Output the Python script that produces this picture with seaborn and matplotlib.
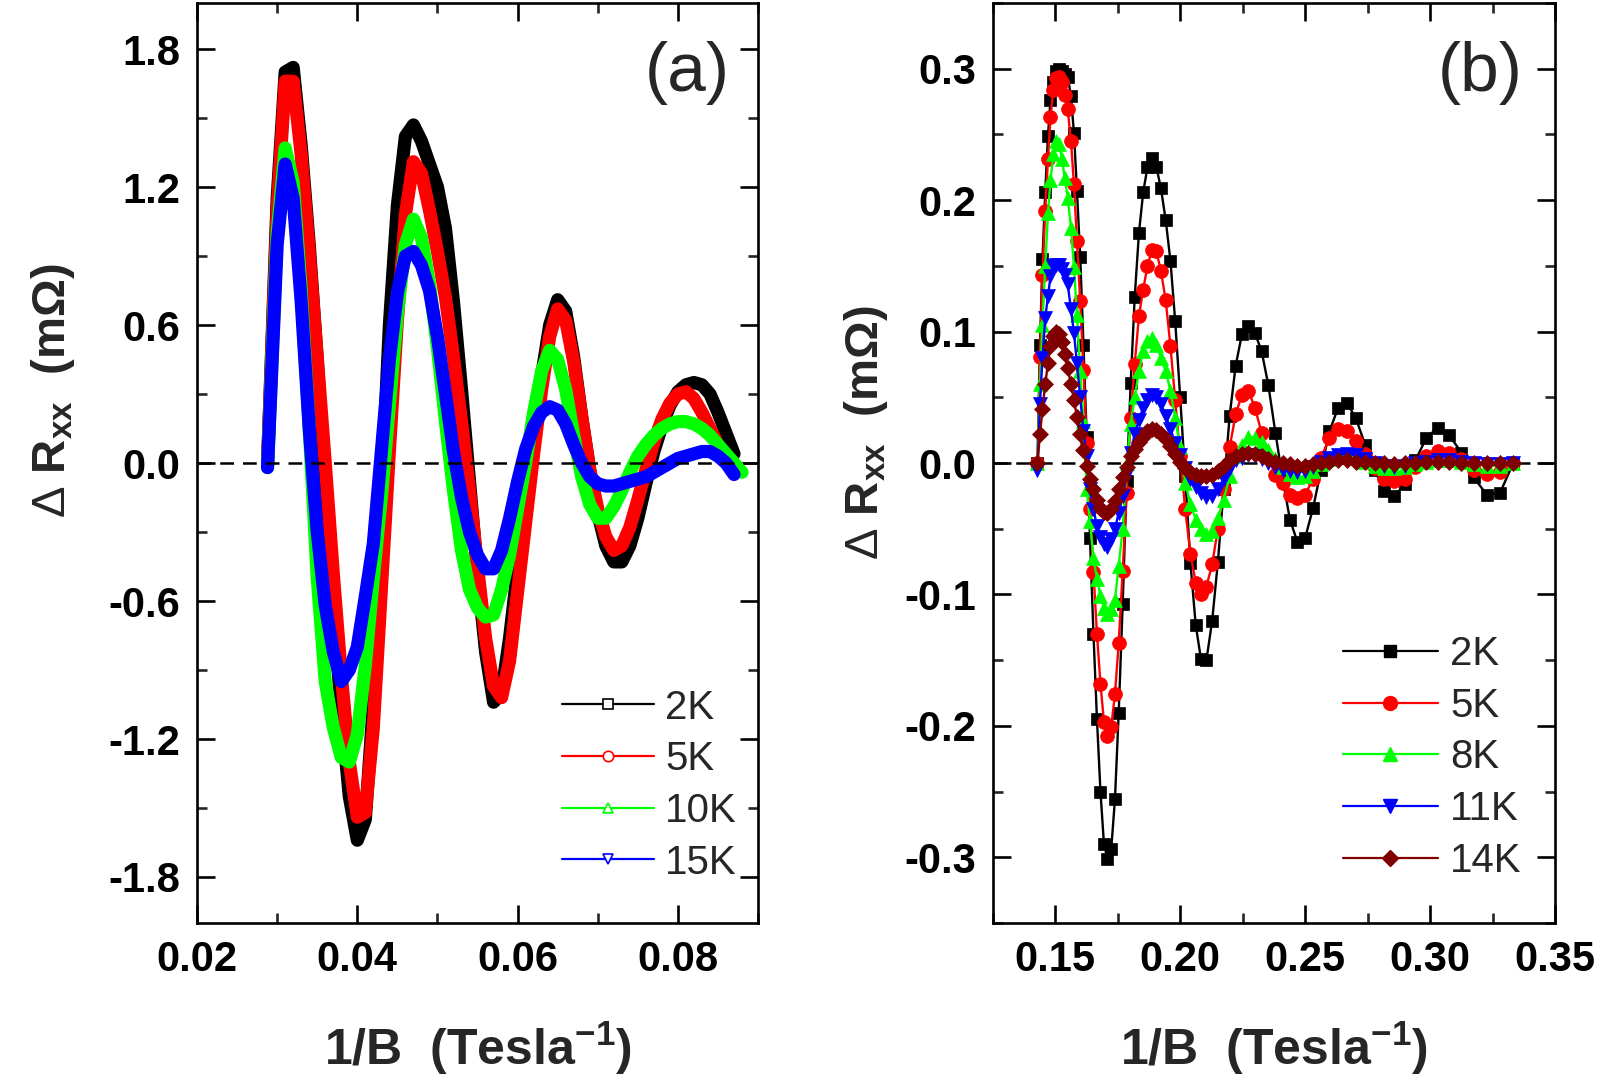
import matplotlib
matplotlib.use("Agg")
import numpy as np
import pandas as pd
import matplotlib.pyplot as plt
import seaborn as sns
from matplotlib.lines import Line2D
from matplotlib.ticker import MultipleLocator, FormatStrFormatter

# ---------------- panel (a): high field, 2-15 K ----------------
inv_b_a = [0.0288, 0.030, 0.031, 0.032, 0.033, 0.034, 0.035, 0.036, 0.037, 0.038,
           0.039, 0.040, 0.041, 0.042, 0.043, 0.044, 0.045, 0.046, 0.047, 0.048,
           0.049, 0.050, 0.051, 0.052, 0.053, 0.054, 0.055, 0.056, 0.057, 0.058,
           0.059, 0.060, 0.061, 0.062, 0.063, 0.064, 0.065, 0.066, 0.067, 0.068,
           0.069, 0.070, 0.071, 0.072, 0.073, 0.074, 0.075, 0.076, 0.077, 0.078,
           0.079, 0.080, 0.081, 0.082, 0.083, 0.084, 0.085, 0.086, 0.087, 0.088]

a_2k = [0.00, 1.15, 1.70, 1.72, 1.38, 0.95, 0.45, -0.12, -0.62, -1.08,
        -1.45, -1.64, -1.55, -1.05, -0.15, 0.60, 1.12, 1.42, 1.47, 1.40,
        1.30, 1.20, 1.02, 0.70, 0.32, -0.08, -0.48, -0.82, -1.04, -1.00,
        -0.76, -0.46, -0.16, 0.12, 0.38, 0.60, 0.71, 0.66, 0.46, 0.20,
        -0.03, -0.22, -0.36, -0.43, -0.43, -0.36, -0.24, -0.09, 0.05, 0.16,
        0.25, 0.31, 0.34, 0.35, 0.34, 0.30, 0.22, 0.13, 0.04, np.nan]

a_5k = [0.00, 1.10, 1.66, 1.66, 1.34, 0.92, 0.46, 0.00, -0.48, -0.92,
        -1.30, -1.54, -1.52, -1.15, -0.55, 0.05, 0.62, 1.08, 1.31, 1.26,
        1.10, 0.92, 0.72, 0.46, 0.18, -0.12, -0.45, -0.76, -0.97, -1.02,
        -0.86, -0.56, -0.26, 0.04, 0.32, 0.55, 0.67, 0.62, 0.44, 0.20,
        -0.03, -0.20, -0.32, -0.38, -0.36, -0.28, -0.16, -0.03, 0.09, 0.19,
        0.26, 0.30, 0.31, 0.28, 0.22, 0.15, 0.08, 0.02, -0.02, np.nan]

a_10k = [-0.02, 1.00, 1.37, 1.22, 0.75, 0.15, -0.50, -0.95, -1.15, -1.28,
         -1.30, -1.18, -0.88, -0.50, -0.15, 0.25, 0.65, 0.95, 1.06, 0.98,
         0.78, 0.50, 0.18, -0.12, -0.38, -0.55, -0.63, -0.67, -0.66, -0.55,
         -0.40, -0.20, 0.00, 0.22, 0.40, 0.49, 0.45, 0.32, 0.12, -0.06,
         -0.18, -0.24, -0.24, -0.19, -0.12, -0.04, 0.03, 0.08, 0.12, 0.15,
         0.17, 0.18, 0.18, 0.17, 0.15, 0.12, 0.08, 0.04, 0.00, -0.04]

a_15k = [-0.02, 0.95, 1.30, 1.15, 0.70, 0.15, -0.30, -0.62, -0.82, -0.95,
         -0.90, -0.80, -0.58, -0.35, 0.05, 0.45, 0.74, 0.90, 0.92, 0.86,
         0.75, 0.55, 0.30, 0.05, -0.15, -0.30, -0.40, -0.46, -0.46, -0.38,
         -0.24, -0.08, 0.06, 0.16, 0.22, 0.245, 0.23, 0.17, 0.08, 0.00,
         -0.06, -0.09, -0.10, -0.10, -0.09, -0.08, -0.07, -0.06, -0.04, -0.02,
         0.00, 0.02, 0.03, 0.04, 0.05, 0.05, 0.03, 0.00, -0.05, np.nan]

# ---------------- panel (b): low field, 2-14 K ----------------
inv_b_b = [0.1429, 0.1439, 0.1449, 0.1460, 0.1471, 0.1481, 0.1493, 0.1504, 0.1515, 0.1527,
           0.1538, 0.1550, 0.1563, 0.1575, 0.1587, 0.1600, 0.1613, 0.1626, 0.1639, 0.1653,
           0.1667, 0.1681, 0.1695, 0.1709, 0.1724, 0.1739, 0.1754, 0.1770, 0.1786, 0.1802,
           0.1818, 0.1835, 0.1852, 0.1869, 0.1887, 0.1905, 0.1923, 0.1942, 0.1961, 0.1980,
           0.2000, 0.2020, 0.2041, 0.2062, 0.2083, 0.2105, 0.2128, 0.2151, 0.2174, 0.2198,
           0.2222, 0.2247, 0.2273, 0.2299, 0.2326, 0.2353, 0.2381, 0.2410, 0.2439, 0.2469,
           0.2500, 0.2532, 0.2564, 0.2597, 0.2632, 0.2667, 0.2703, 0.2740, 0.2778, 0.2817,
           0.2857, 0.2899, 0.2941, 0.2985, 0.3030, 0.3077, 0.3125, 0.3175, 0.3226, 0.3279,
           0.3333]

b_2k = [0.000, 0.090, 0.155, 0.206, 0.249, 0.276, 0.290, 0.298, 0.300, 0.298,
        0.296, 0.294, 0.279, 0.251, 0.207, 0.157, 0.090, 0.020, -0.057, -0.130,
        -0.195, -0.250, -0.290, -0.301, -0.294, -0.256, -0.190, -0.107, -0.014, 0.061,
        0.126, 0.175, 0.206, 0.225, 0.232, 0.225, 0.209, 0.185, 0.154, 0.108,
        0.050, -0.010, -0.076, -0.123, -0.149, -0.150, -0.120, -0.075, -0.020, 0.036,
        0.074, 0.098, 0.104, 0.099, 0.085, 0.059, 0.023, -0.012, -0.043, -0.060,
        -0.057, -0.034, -0.005, 0.024, 0.042, 0.046, 0.034, 0.014, -0.005, -0.021,
        -0.025, -0.016, 0.002, 0.019, 0.027, 0.021, 0.008, -0.011, -0.024, -0.023,
        0.000]

b_5k = [0.000, 0.081, 0.143, 0.192, 0.231, 0.263, 0.284, 0.293, 0.294, 0.290,
        0.280, 0.269, 0.245, 0.212, 0.169, 0.123, 0.071, 0.015, -0.035, -0.083,
        -0.130, -0.168, -0.197, -0.208, -0.201, -0.176, -0.137, -0.082, -0.023, 0.034,
        0.075, 0.112, 0.132, 0.150, 0.162, 0.161, 0.146, 0.124, 0.089, 0.048,
        0.005, -0.035, -0.069, -0.091, -0.100, -0.094, -0.077, -0.050, -0.020, 0.012,
        0.037, 0.052, 0.055, 0.042, 0.023, 0.004, -0.009, -0.015, -0.024, -0.027,
        -0.024, -0.012, 0.004, 0.019, 0.026, 0.024, 0.017, 0.007, -0.004, -0.012,
        -0.014, -0.012, -0.003, 0.005, 0.009, 0.008, 0.003, -0.005, -0.008, -0.007,
        0.000]

b_8k = [0.000, 0.060, 0.105, 0.150, 0.190, 0.215, 0.235, 0.245, 0.243, 0.231,
        0.217, 0.202, 0.179, 0.149, 0.113, 0.070, 0.032, -0.020, -0.044, -0.072,
        -0.088, -0.101, -0.110, -0.115, -0.111, -0.104, -0.078, -0.050, 0.000, 0.030,
        0.050, 0.070, 0.085, 0.093, 0.095, 0.090, 0.080, 0.070, 0.055, 0.034,
        0.012, -0.015, -0.031, -0.043, -0.050, -0.054, -0.052, -0.042, -0.028, -0.010,
        0.005, 0.014, 0.020, 0.019, 0.016, 0.010, 0.003, -0.003, -0.008, -0.011,
        -0.010, -0.006, -0.001, 0.003, 0.005, 0.006, 0.004, 0.001, -0.002, -0.004,
        -0.004, -0.003, -0.001, 0.001, 0.002, 0.002, 0.001, -0.001, -0.002, -0.002,
        0.000]

b_11k = [-0.005, 0.045, 0.080, 0.110, 0.127, 0.142, 0.150, 0.151, 0.151, 0.148,
         0.143, 0.136, 0.117, 0.099, 0.076, 0.050, 0.024, 0.005, -0.020, -0.035,
         -0.048, -0.056, -0.062, -0.064, -0.058, -0.050, -0.038, -0.025, -0.008, 0.008,
         0.022, 0.033, 0.042, 0.048, 0.052, 0.050, 0.045, 0.036, 0.026, 0.015,
         0.006, -0.004, -0.012, -0.018, -0.023, -0.026, -0.025, -0.020, -0.012, -0.004,
         0.002, 0.004, 0.006, 0.005, 0.003, 0.000, -0.003, -0.005, -0.006, -0.007,
         -0.006, -0.003, 0.001, 0.004, 0.006, 0.007, 0.006, 0.003, 0.000, -0.002,
         -0.003, -0.002, 0.000, 0.001, 0.002, 0.002, 0.001, 0.000, -0.001, -0.001,
         0.000]

b_14k = [0.000, 0.022, 0.041, 0.060, 0.076, 0.089, 0.097, 0.100, 0.098, 0.092,
         0.083, 0.072, 0.060, 0.048, 0.035, 0.022, 0.010, -0.002, -0.012, -0.020,
         -0.028, -0.034, -0.037, -0.038, -0.035, -0.029, -0.020, -0.011, -0.003, 0.005,
         0.011, 0.016, 0.020, 0.024, 0.026, 0.025, 0.022, 0.018, 0.013, 0.007,
         0.001, -0.004, -0.007, -0.009, -0.010, -0.010, -0.009, -0.006, -0.002, 0.002,
         0.005, 0.007, 0.008, 0.007, 0.005, 0.003, 0.001, 0.000, -0.001, -0.002,
         -0.002, -0.001, 0.000, 0.001, 0.002, 0.002, 0.001, 0.001, 0.000, 0.000,
         -0.001, 0.000, 0.000, 0.001, 0.001, 0.001, 0.000, 0.000, 0.000, 0.000,
         0.000]

labels_a = ["2K", "5K", "10K", "15K"]
labels_b = ["2K", "5K", "8K", "11K", "14K"]

# ---------------- style ----------------
sns.set_style("ticks")
plt.rcParams["font.family"] = ["Liberation Sans", "DejaVu Sans"]
plt.rcParams["font.weight"] = "bold"
plt.rcParams["axes.unicode_minus"] = False
plt.rcParams["mathtext.fontset"] = "custom"
plt.rcParams["mathtext.rm"] = "Liberation Sans:weight=normal"
plt.rcParams["mathtext.bf"] = "Liberation Sans:bold"
plt.rcParams["mathtext.it"] = "Liberation Sans:italic"

fig = plt.figure(figsize=(16.03, 10.86), dpi=100)
ax_a = fig.add_axes([0.1229, 0.1501, 0.3500, 0.8471])
ax_b = fig.add_axes([0.6193, 0.1501, 0.3508, 0.8471])


def style_axes(ax):
    for sp in ax.spines.values():
        sp.set_linewidth(1.9)
        sp.set_color("black")
    ax.tick_params(which="major", direction="in", length=13, width=1.9,
                   top=True, right=True, labelsize=30, pad=12, colors="black")
    ax.tick_params(which="minor", direction="in", length=7, width=1.9,
                   top=True, right=True)


# panel (a): dense hollow symbols drawn as thick bands
colors_a = ["black", "#ff0000", "#00ff00", "#0000ff"]
markers_a = ["s", "o", "^", "v"]
for yv, c in zip([a_2k, a_5k, a_10k, a_15k], colors_a):
    sns.lineplot(x=inv_b_a, y=yv, ax=ax_a, color=c, lw=9.5, sort=False,
                 errorbar=None, solid_joinstyle="round", solid_capstyle="round")
ax_a.axhline(0, color="black", lw=1.8, ls=(0, (5.5, 3.6)), zorder=5)

ax_a.set_xlim(0.02, 0.09)
ax_a.set_ylim(-2.0, 2.0)
ax_a.xaxis.set_major_locator(MultipleLocator(0.02))
ax_a.xaxis.set_minor_locator(MultipleLocator(0.01))
ax_a.yaxis.set_major_locator(MultipleLocator(0.6))
ax_a.yaxis.set_minor_locator(MultipleLocator(0.3))
ax_a.xaxis.set_major_formatter(FormatStrFormatter("%.2f"))
ax_a.yaxis.set_major_formatter(FormatStrFormatter("%.1f"))
style_axes(ax_a)

handles_a = [Line2D([], [], color=c, lw=1.6, marker=m, markersize=7.5,
                    markerfacecolor="white", markeredgecolor=c, markeredgewidth=1.2)
             for c, m in zip(colors_a, markers_a)]
ax_a.legend(handles_a, labels_a, loc="lower left", bbox_to_anchor=(0.651, 0.045),
            frameon=False, prop={"size": 29, "weight": "normal"}, handlelength=2.28,
            handletextpad=0.28, labelspacing=0.34, borderpad=0, borderaxespad=0)
ax_a.text(0.874, 0.924, "(a)", transform=ax_a.transAxes, ha="center", va="center",
          fontsize=50, fontweight="normal")

# panel (b): symbols with lines
colors_b = ["black", "#ff0000", "#00ff00", "#0000ff", "#800000"]
markers_b = ["s", "o", "^", "v", "D"]
sizes_b = [9.0, 10.0, 10.0, 10.0, 8.5]
ax_b.axhline(0, color="black", lw=1.8, ls=(0, (5.5, 3.6)), zorder=1)
for yv, c, m, ms in zip([b_2k, b_5k, b_8k, b_11k, b_14k], colors_b, markers_b, sizes_b):
    sns.lineplot(x=inv_b_b, y=yv, ax=ax_b, color=c, lw=1.7, marker=m, markersize=ms,
                 markeredgecolor=c, markeredgewidth=0.5, sort=False, errorbar=None)

ax_b.set_xlim(0.125, 0.35)
ax_b.set_ylim(-0.35, 0.35)
ax_b.xaxis.set_major_locator(MultipleLocator(0.05))
ax_b.xaxis.set_minor_locator(MultipleLocator(0.025))
ax_b.yaxis.set_major_locator(MultipleLocator(0.1))
ax_b.yaxis.set_minor_locator(MultipleLocator(0.05))
ax_b.xaxis.set_major_formatter(FormatStrFormatter("%.2f"))
ax_b.yaxis.set_major_formatter(FormatStrFormatter("%.1f"))
style_axes(ax_b)

handles_b = [Line2D([], [], color=c, lw=1.6, marker=m, markersize=ms,
                    markerfacecolor=c, markeredgecolor=c)
             for c, m, ms in zip(colors_b, markers_b, sizes_b)]
ax_b.legend(handles_b, labels_b, loc="lower left", bbox_to_anchor=(0.622, 0.047),
            frameon=False, prop={"size": 29, "weight": "normal"}, handlelength=2.38,
            handletextpad=0.29, labelspacing=0.34, borderpad=0, borderaxespad=0)
ax_b.text(0.866, 0.924, "(b)", transform=ax_b.transAxes, ha="center", va="center",
          fontsize=50, fontweight="normal")

# axis labels
ylab = "$\\Delta$ R$_{\\mathbf{xx}}$  (m\u03a9)"
xlab = "1/B  (Tesla$^{\\mathbf{-1}}$)"
for ax, ycoord in [(ax_a, (-0.214, 0.579)), (ax_b, (-0.183, 0.533))]:
    ax.set_xlabel(xlab, fontsize=36, fontweight="bold")
    ax.set_ylabel(ylab, fontsize=34, fontweight="bold")
    ax.xaxis.set_label_coords(0.5, -0.105)
    ax.yaxis.set_label_coords(*ycoord)

fig.savefig("out.png", dpi=100)
